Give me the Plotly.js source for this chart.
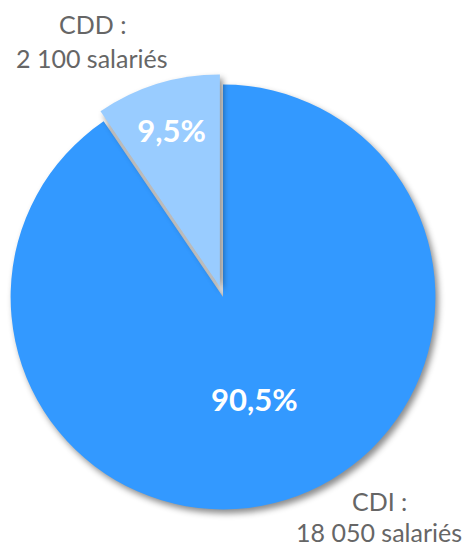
<!DOCTYPE html>
<html><head><meta charset="utf-8">
<script src="https://cdn.plot.ly/plotly-3.0.1.min.js"></script>
<style>
html,body{margin:0;padding:0;background:#fff;}
#chart{width:471px;height:549px;}
.pielayer path.surface{filter:drop-shadow(3px 4px 3px rgba(0,0,0,0.45));}
</style>
</head><body>
<div id="chart"></div>
<script>
var categories = ["CDI", "CDD"];
var shares = [90.5, 9.5];
var headcountLabels = ["18 050 salariés", "2 100 salariés"];
var colors = ["#3399FF", "#99CCFF"];
var pulls = [0, 0.05];

var trace = {
  type: "pie",
  labels: categories,
  values: shares,
  sort: false,
  direction: "clockwise",
  rotation: 0,
  pull: pulls,
  marker: {colors: colors, line: {width: 0}},
  textinfo: "percent",
  texttemplate: "%{percent:.1%}",
  textposition: "inside",
  insidetextorientation: "horizontal",
  insidetextfont: {family: "Lato, 'Open Sans', sans-serif", size: 31, color: "#ffffff", weight: "bold"},
  hoverinfo: "label+percent",
  showlegend: false,
  domain: {x: [0, 0.947], y: [0.049, 0.869]}
};

var labelFont = {family: "Lato, 'Open Sans', sans-serif", size: 25, color: "#666666"};
var layout = {
  width: 471, height: 549,
  margin: {l: 0, r: 0, t: 0, b: 0},
  paper_bgcolor: "#ffffff",
  separators: ", ",
  annotations: [
    {xref: "paper", yref: "paper", x: 92/471, y: 1 - 24/549, text: categories[1] + " :", showarrow: false, font: labelFont, xanchor: "center", yanchor: "middle"},
    {xref: "paper", yref: "paper", x: 92/471, y: 1 - 58/549, text: headcountLabels[1], showarrow: false, font: labelFont, xanchor: "center", yanchor: "middle"},
    {xref: "paper", yref: "paper", x: 379/471, y: 1 - 501/549, text: categories[0] + " :", showarrow: false, font: labelFont, xanchor: "center", yanchor: "middle"},
    {xref: "paper", yref: "paper", x: 379/471, y: 1 - 532/549, text: headcountLabels[0], showarrow: false, font: labelFont, xanchor: "center", yanchor: "middle"}
  ]
};
Plotly.newPlot("chart", [trace], layout, {displayModeBar: false, staticPlot: true});
</script>
</body></html>
